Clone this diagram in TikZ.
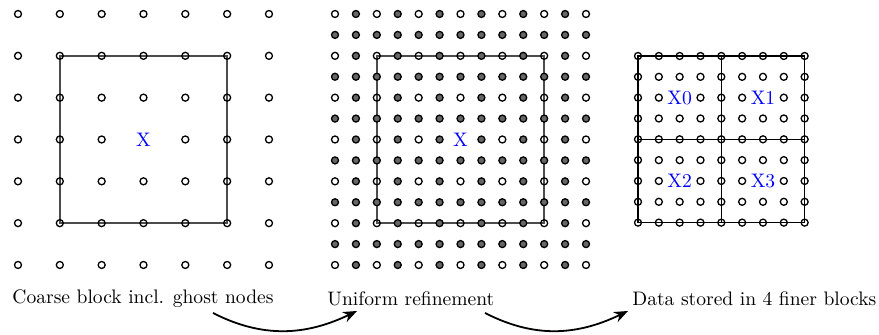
\documentclass[tikz,border=0pt]{standalone}
\usetikzlibrary{arrows.meta}
\begin{document}
\begin{tikzpicture}[x=0.5pt,y=-0.5pt,
  opennode/.style={draw=black,line width=0.65pt},
  newnode/.style={draw=black,fill=black!60,line width=0.65pt},
  blockline/.style={draw=black!70,line width=0.75pt},
  fineline/.style={draw=black,line width=0.75pt},
  lbl/.style={text=blue,inner sep=0pt,font=\fontsize{9.8}{12}\selectfont},
  caption/.style={anchor=west,inner sep=0pt,font=\fontsize{9.78}{12}\selectfont},
  flow/.style={-{Stealth[length=7pt,width=5.5pt]},line width=0.9pt}]
\useasboundingbox (0,0) rectangle (879,335);
% ---- coarse block
\draw[blockline] (59.83,55.83) rectangle (227.17,223.17);
\foreach \i in {0,...,6}{
  \foreach \j in {0,...,6}{
    \pgfmathtruncatemacro{\skip}{(\i==3)&&(\j==3)}
    \ifnum\skip=0
      \draw[opennode] ({18+41.83*\i},{14+41.83*\j}) circle[radius=1.75pt];
    \fi
  }}
\node[lbl] (xc) at (143.5,139.5) {X};
% ---- uniform refinement
\draw[blockline] (376.83,55.83) rectangle (544.17,223.17);
\foreach \i in {0,...,12}{
  \foreach \j in {0,...,12}{
    \pgfmathtruncatemacro{\skip}{(\i==6)&&(\j==6)}
    \pgfmathtruncatemacro{\odd}{(mod(\i,2)==1)||(mod(\j,2)==1)}
    \ifnum\skip=0
      \ifnum\odd=1
        \draw[newnode] ({335+20.917*\i},{14+20.917*\j}) circle[radius=1.75pt];
      \else
        \draw[opennode] ({335+20.917*\i},{14+20.917*\j}) circle[radius=1.75pt];
      \fi
    \fi
  }}
\node[lbl] (xr) at (460.5,139.5) {X};
% ---- four finer blocks
\draw[fineline] (638,56) rectangle (804.6,222.6);
\draw[fineline] (721.3,56) -- (721.3,222.6);
\draw[fineline] (638,139.3) -- (804.6,139.3);
\foreach \i in {0,...,8}{
  \foreach \j in {0,...,8}{
    \pgfmathtruncatemacro{\skip}{((\i==2)||(\i==6))&&((\j==2)||(\j==6))}
    \ifnum\skip=0
      \draw[opennode] ({638+20.83*\i},{56+20.83*\j}) circle[radius=1.75pt];
    \fi
  }}
\node[lbl] (x0) at (679.7,97.7) {X0};
\node[lbl] (x1) at (763.0,97.7) {X1};
\node[lbl] (x2) at (679.7,181.0) {X2};
\node[lbl] (x3) at (763.0,181.0) {X3};
% ---- captions
\node[caption] (c1) at (12,299) {Coarse block incl. ghost nodes};
\node[caption] (c2) at (327,299) {Uniform refinement};
\node[caption] (c3) at (632,299) {Data stored in 4 finer blocks};
% ---- arrows
\coordinate (a1s) at (213,313);
\coordinate (a1e) at (357,311);
\coordinate (a2s) at (485,313);
\coordinate (a2e) at (628,311);
\draw[flow] (a1s) .. controls (262,338) and (305,336) .. (a1e);
\draw[flow] (a2s) .. controls (534,338) and (576,336) .. (a2e);
\end{tikzpicture}
\end{document}
